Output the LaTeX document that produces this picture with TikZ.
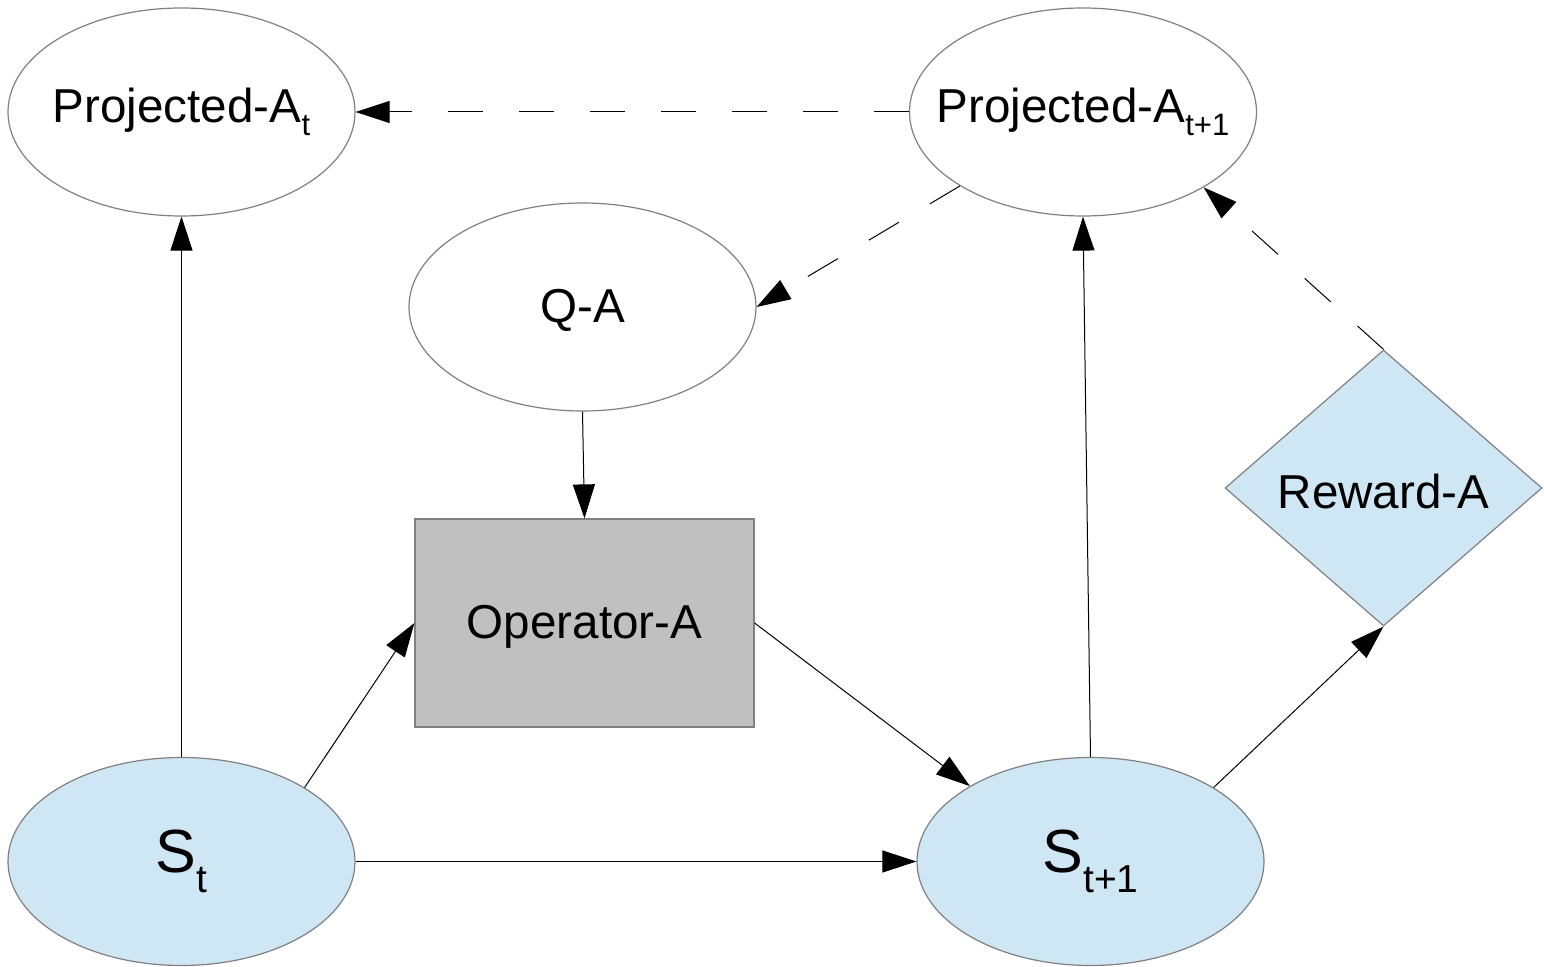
\documentclass[tikz,border=0pt]{standalone}
\usepackage{fontspec}
\setmainfont{Liberation Sans}
\usetikzlibrary{shapes.geometric,arrows.meta}

\definecolor{outline}{HTML}{808080}
\definecolor{stateblue}{HTML}{CFE6F4}
\definecolor{opgray}{HTML}{C0C0C0}

% lowered subscripts for the two text sizes
\newcommand{\lsub}[1]{\raisebox{-6.5pt}{\fontsize{15.5}{15.5}\selectfont #1}}
\newcommand{\bsub}[1]{\raisebox{-10pt}{\fontsize{19.5}{19.5}\selectfont #1}}
% lower a label slightly while keeping its reported size
\newcommand{\dropby}[2]{\raisebox{-#1}[\height][\depth]{#2}}

\tikzset{
  lbl/.style={font=\fontsize{23.8}{23.8}\selectfont},
  ell/.style={ellipse, draw=outline, line width=0.6pt, inner sep=0pt,
              minimum width=173.5pt, minimum height=104pt, lbl},
  stateell/.style={ell, fill=stateblue, font=\fontsize{30.5}{30.5}\selectfont},
  opbox/.style={rectangle, draw=outline, line width=0.6pt, fill=opgray,
                inner sep=0pt, minimum width=169.5pt, minimum height=104pt, lbl},
  rewardbox/.style={diamond, draw=outline, line width=0.6pt, fill=stateblue,
                    inner sep=0pt, minimum width=158.5pt, minimum height=138pt, lbl},
  conn/.style={draw=black, line width=0.5pt, -{Triangle[length=17pt,width=11pt]}},
  dconn/.style={conn, dash pattern=on 17.5pt off 18pt},
}

\begin{document}
\begin{tikzpicture}[x=0.5pt, y=-0.5pt]
  \useasboundingbox (0,0) rectangle (1544,967);

  % nodes
  \node[ell] (pa0) at (181.5,112) {\makebox[0pt]{Projected-A\lsub{t}}};
  \node[ell] (pa1) at (1083,112) {\makebox[0pt]{Projected-A\lsub{t+1}}};
  \node[ell] (qa)  at (582.5,307) {\makebox[0pt]{\dropby{1.5pt}{Q-A}}};
  \node[opbox] (op) at (584.5,623) {\dropby{2pt}{Operator-A}};
  \node[rewardbox] (rw) at (1383.5,488) {\makebox[0pt]{\dropby{1.5pt}{Reward-A}}};
  \node[stateell] (s0) at (181.5,861.5) {\makebox[0pt]{S\bsub{t}}};
  \node[stateell] (s1) at (1090.5,861.5) {\makebox[0pt]{S\bsub{t+1}}};

  % solid connectors
  \draw[conn] (s0.north) -- (pa0.south);
  \draw[conn] (s0.31) -- (op.west);
  \draw[conn] (s0.east) -- (s1.west);
  \draw[conn] (qa.south) -- (op.north);
  \draw[conn] (op.east) -- (s1.148.4);
  \draw[conn] (s1.north) -- (pa1.south);
  \draw[conn] (s1.31.4) -- (rw.south);

  % dashed connectors
  \draw[dconn] (pa1.west) -- (pa0.east);
  \draw[dconn] (pa1.211.4) -- (qa.east);
  \draw[dconn] (rw.north) -- (pa1.328.3);
\end{tikzpicture}
\end{document}
